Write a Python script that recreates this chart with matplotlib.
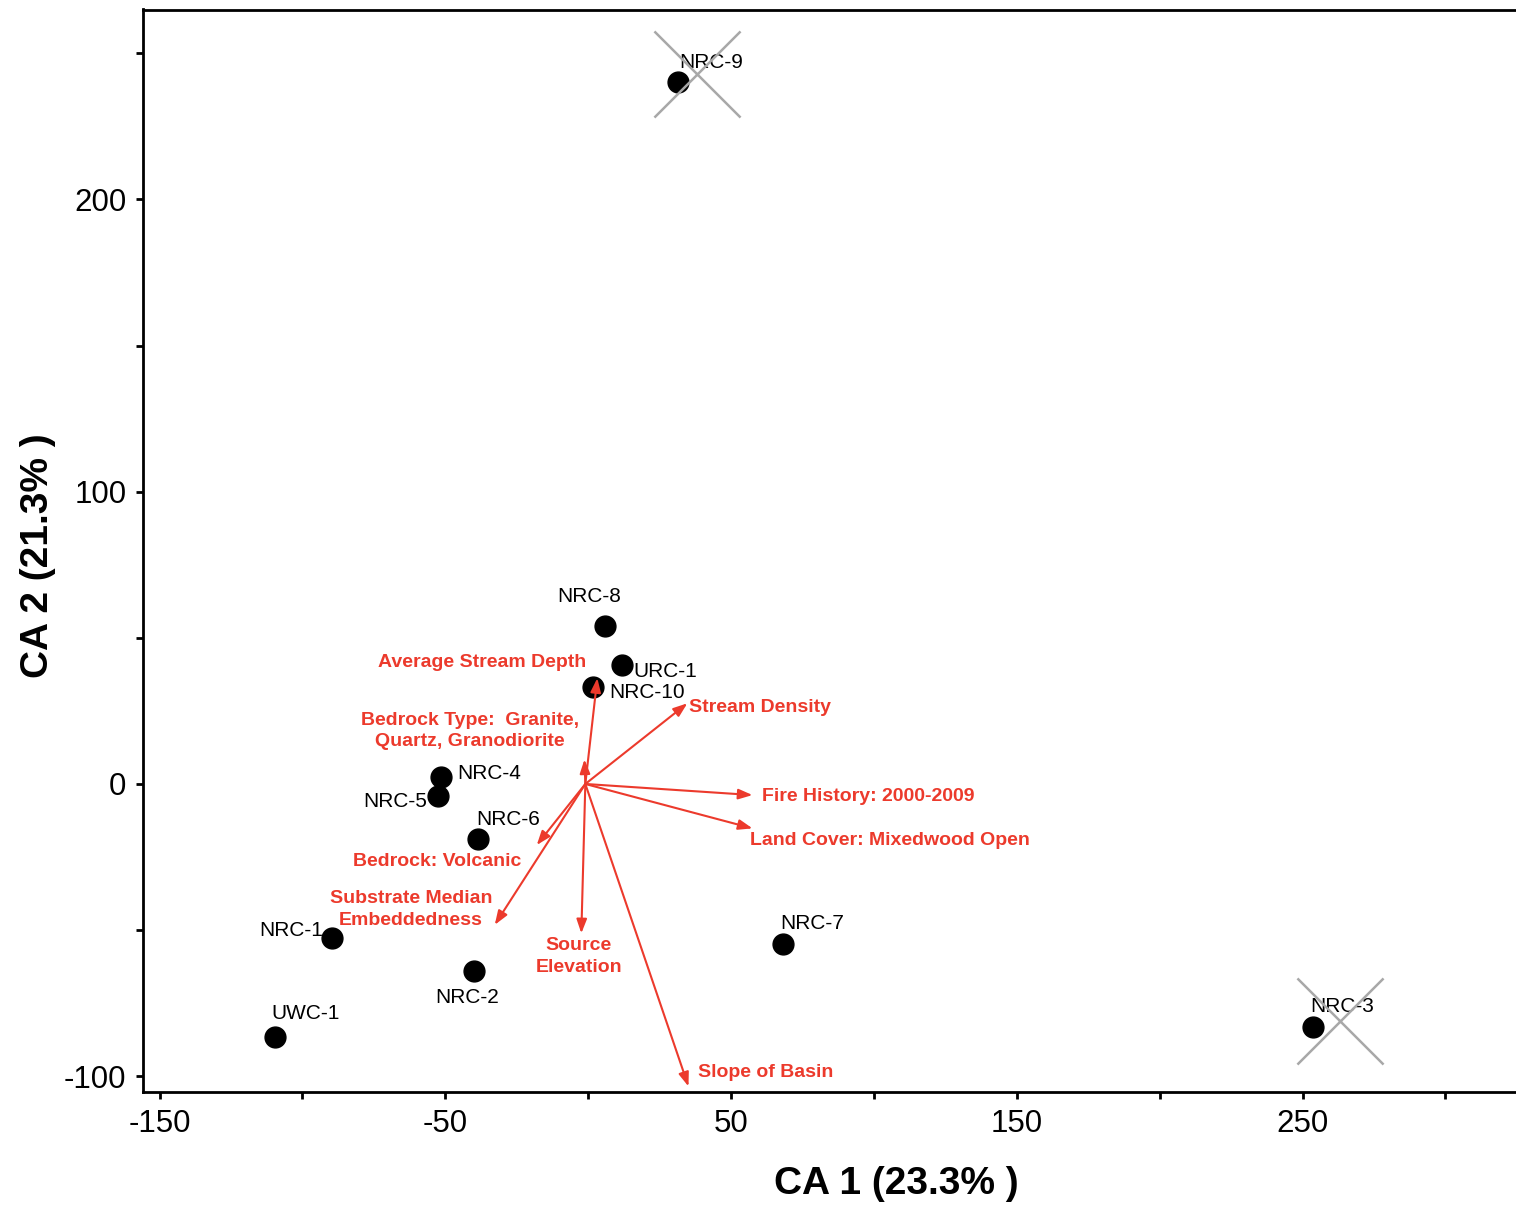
import matplotlib
matplotlib.use("Agg")
import matplotlib.pyplot as plt
from matplotlib.patches import FancyArrowPatch
from matplotlib.ticker import FixedLocator

plt.rcParams['font.family'] = ['Liberation Sans', 'DejaVu Sans']

# ---- site scores ----
sites = ["NRC-9", "NRC-8", "URC-1", "NRC-10", "NRC-4", "NRC-5", "NRC-6",
         "NRC-1", "NRC-2", "UWC-1", "NRC-7", "NRC-3"]
site_x = [31.4, 5.8, 11.7, 1.7, -51.6, -52.4, -38.4, -89.8, -40.1, -109.7, 68.1, 253.5]
site_y = [240.3, 54.0, 40.7, 33.3, 2.5, -4.1, -18.9, -52.7, -64.0, -86.6, -54.7, -83.0]

# site label positions and alignment
label_x = [42.9, 0.2, 15.8, 7.5, -45.8, -56.5, -39.0, -92.6, -42.3, -99.0, 78.4, 263.9]
label_y = [247.0, 64.0, 38.4, 31.2, 3.7, -6.0, -12.1, -50.3, -72.9, -78.7, -47.6, -76.0]
label_ha = ["center", "center", "left", "left", "left", "right", "left",
            "right", "center", "center", "center", "center"]

# excluded sites (crossed out)
cross_x = [38.1, 263.0]
cross_y = [243.0, -81.1]

# ---- environmental vectors ----
vec_origin = (-1.0, 0.0)
vec_names = ["Average Stream Depth", "Stream Density",
             "Bedrock Type:  Granite,\nQuartz, Granodiorite",
             "Fire History: 2000-2009", "Land Cover: Mixedwood Open",
             "Bedrock: Volcanic", "Substrate Median\nEmbeddedness",
             "Source\nElevation", "Slope of Basin"]
vec_x = [3.2, 34.7, -1.3, 57.5, 57.5, -18.0, -32.7, -2.4, 35.1]
vec_y = [36.2, 27.6, 8.4, -3.8, -15.2, -20.9, -48.2, -51.1, -103.5]
vec_lab_x = [-0.6, 35.4, -41.5, 61.0, 56.8, -52.9, -62.0, -3.3, 38.6]
vec_lab_y = [41.5, 26.0, 18.2, -4.4, -19.2, -26.6, -42.9, -59.1, -98.6]
vec_lab_ha = ["right", "left", "center", "left", "left", "center", "center", "center", "left"]

x_major = [-150, -50, 50, 150, 250]
x_minor = [-100, 0, 100, 200, 300]
y_major = [-100, 0, 100, 200]
y_minor = [-50, 50, 150, 250]

RED = "#EC3A2C"

fig = plt.figure(figsize=(15.16, 12.07), dpi=100)
ax = fig.add_axes([143/1516, 1 - 1092/1207, 1 - 143/1516, (1092 - 9.5)/1207])
ax.set_xlim(-155.8, 324.7)
ax.set_ylim(-105.4, 265.0)

for s in ["left", "bottom", "top"]:
    ax.spines[s].set_linewidth(2.0)
ax.spines["right"].set_visible(False)

ax.xaxis.set_major_locator(FixedLocator(x_major))
ax.xaxis.set_minor_locator(FixedLocator(x_minor))
ax.yaxis.set_major_locator(FixedLocator(y_major))
ax.yaxis.set_minor_locator(FixedLocator(y_minor))
ax.tick_params(axis="both", which="both", direction="out", length=5, width=2.0,
               labelsize=22.5, pad=7)
ax.tick_params(axis="both", which="minor", labelleft=False, labelbottom=False)
ax.set_xticklabels([str(v) for v in x_major])
ax.set_yticklabels([str(v) for v in y_major])

# crosses
ax.scatter(cross_x, cross_y, marker="x", s=62**2, color="#A8A8A8",
           linewidths=1.8, zorder=4)

# points
ax.scatter(site_x, site_y, s=15**2, color="black", zorder=3)
for name, lx, ly, ha in zip(sites, label_x, label_y, label_ha):
    ax.text(lx, ly, name, ha=ha, va="center", fontsize=15, color="black", zorder=3.5)

# vectors
for name, vx, vy, lx, ly, ha in zip(vec_names, vec_x, vec_y, vec_lab_x, vec_lab_y, vec_lab_ha):
    arr = FancyArrowPatch(vec_origin, (vx, vy),
                          arrowstyle="-|>,head_length=0.6,head_width=0.22",
                          mutation_scale=14, color=RED, linewidth=1.5,
                          shrinkA=0, shrinkB=0, zorder=5)
    ax.add_patch(arr)
    ax.text(lx, ly, name, ha=ha, va="center", multialignment="center",
            fontsize=14, fontweight="bold", color=RED, zorder=5, linespacing=1.35)

ax.set_xlabel("CA 1 (23.3% )", fontsize=28, fontweight="bold", va="top")
ax.xaxis.set_label_coords((896 - 143) / 1373, -(1166 - 1092) / 1082.5)
ax.set_ylabel("CA 2 (21.3% )", fontsize=28, fontweight="bold")
ax.yaxis.set_label_coords(-(143 - 56) / 1373, (1092 - 556) / 1082.5)

fig.savefig("out.png", dpi=100)
